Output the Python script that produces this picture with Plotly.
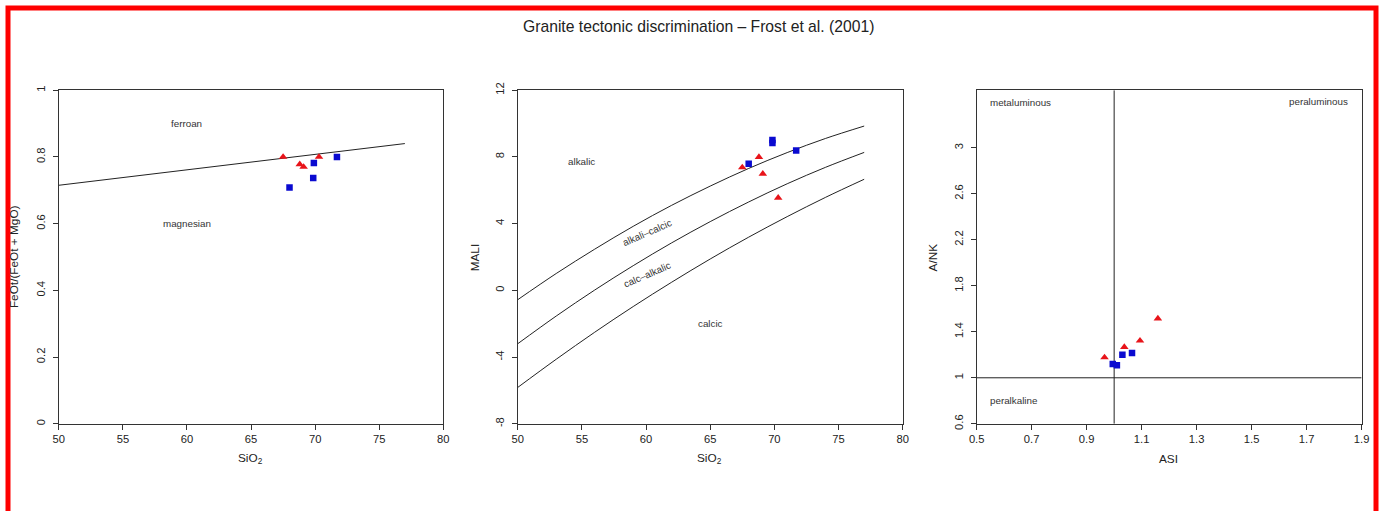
import plotly.graph_objects as go

# The photographed page (figure + 8px body margin) is scaled into 1384x511,
# so reference pixel positions are mapped back through that scale.
W, H = 1384, 511
OFF = 8
SX = W / (W + 2 * OFF)
SY = H / (H + 2 * OFF)

# ---------------- data ----------------
# Panel 1: Fe-number vs SiO2
p1_red_sio2 = [67.5, 68.8, 69.1, 70.3]
p1_red_fe = [0.80, 0.778, 0.77, 0.80]
p1_blue_sio2 = [68.0, 69.9, 69.85, 71.7]
p1_blue_fe = [0.708, 0.782, 0.737, 0.80]
p1_line_sio2 = [50, 77]
p1_line_fe = [0.715, 0.84]

# Panel 2: MALI vs SiO2
p2_red_sio2 = [67.5, 68.8, 69.1, 70.3]
p2_red_mali = [7.37, 7.99, 6.99, 5.55]
p2_blue_sio2 = [68.0, 69.85, 69.85, 71.7]
p2_blue_mali = [7.59, 9.01, 8.83, 8.39]
curve_sio2 = [50, 53, 56, 59, 62, 65, 68, 71, 74, 77]
curve_alk = [-0.56, 1.01, 2.47, 3.84, 5.10, 6.25, 7.31, 8.26, 9.11, 9.85]
curve_alkcalc = [-3.20, -1.54, 0.02, 1.48, 2.85, 4.12, 5.30, 6.39, 7.38, 8.27]
curve_calcalk = [-5.82, -4.13, -2.51, -0.97, 0.49, 1.88, 3.19, 4.42, 5.58, 6.66]

# Panel 3: A/NK vs ASI
p3_red_asi = [0.965, 1.037, 1.094, 1.159]
p3_red_ank = [1.177, 1.267, 1.323, 1.515]
p3_blue_asi = [0.995, 1.010, 1.030, 1.065]
p3_blue_ank = [1.119, 1.110, 1.200, 1.215]

# ticks
p1_xticks = [50, 55, 60, 65, 70, 75, 80]
p1_yticks = [0, 0.2, 0.4, 0.6, 0.8, 1]
p1_ytext = ["0", "0.2", "0.4", "0.6", "0.8", "1"]
p2_yticks = [-8, -4, 0, 4, 8, 12]
p2_ytext = ["-8", "-4", "0", "4", "8", "12"]
p3_xticks = [0.5, 0.7, 0.9, 1.1, 1.3, 1.5, 1.7, 1.9]
p3_xtext = ["0.5", "0.7", "0.9", "1.1", "1.3", "1.5", "1.7", "1.9"]
p3_yticks = [0.6, 1, 1.4, 1.8, 2.2, 2.6, 3]
p3_ytext = ["0.6", "1", "1.4", "1.8", "2.2", "2.6", "3"]

FONT = "Liberation Sans, Arial, sans-serif"
RED = "#e8141a"
BLUE = "#0a0ad0"
LINE = "#222222"
AXC = "#333333"
TXT = "#333333"

fig = go.Figure()

def red_tri(x, y, xa, ya):
    fig.add_trace(go.Scatter(x=x, y=y, mode="markers", xaxis=xa, yaxis=ya,
                             marker=dict(symbol="triangle-up", size=7.5, color=RED, line=dict(width=0)),
                             showlegend=False, hoverinfo="x+y"))

def blue_sq(x, y, xa, ya):
    fig.add_trace(go.Scatter(x=x, y=y, mode="markers", xaxis=xa, yaxis=ya,
                             marker=dict(symbol="square", size=6.5, color=BLUE, line=dict(width=0)),
                             showlegend=False, hoverinfo="x+y"))

def line(x, y, xa, ya, shape="linear"):
    fig.add_trace(go.Scatter(x=x, y=y, mode="lines", xaxis=xa, yaxis=ya,
                             line=dict(color=LINE, width=1, shape=shape),
                             showlegend=False, hoverinfo="skip"))

# Panel 1
line(p1_line_sio2, p1_line_fe, "x", "y")
red_tri(p1_red_sio2, p1_red_fe, "x", "y")
blue_sq(p1_blue_sio2, p1_blue_fe, "x", "y")

# Panel 2
line(curve_sio2, curve_alk, "x2", "y2", "spline")
line(curve_sio2, curve_alkcalc, "x2", "y2", "spline")
line(curve_sio2, curve_calcalk, "x2", "y2", "spline")
red_tri(p2_red_sio2, p2_red_mali, "x2", "y2")
blue_sq(p2_blue_sio2, p2_blue_mali, "x2", "y2")

# Panel 3
line([1, 1], [0.6, 3.5], "x3", "y3")
line([0.5, 1.9], [1, 1], "x3", "y3")
red_tri(p3_red_asi, p3_red_ank, "x3", "y3")
blue_sq(p3_blue_asi, p3_blue_ank, "x3", "y3")

def px_x(p):
    return (p / SX - OFF) / W

def px_y(p):
    return 1 - (p / SY - OFF) / H

ydom = [px_y(422.3), px_y(89.7)]
tickfont = dict(family=FONT, size=11.2, color="#222222")

def xaxis(dom, rng, tv, tt, anchor):
    return dict(domain=dom, range=rng, tickmode="array", tickvals=tv, ticktext=tt,
                showgrid=False, zeroline=False, showline=True, linecolor=AXC, linewidth=1,
                mirror=True, ticks="outside", ticklen=5, tickcolor=AXC, tickwidth=1,
                tickfont=tickfont, anchor=anchor, fixedrange=True)

def yaxis(rng, tv, tt, anchor):
    return dict(domain=ydom, range=rng, tickmode="array", tickvals=tv, ticktext=tt,
                showgrid=False, zeroline=False, showline=True, linecolor=AXC, linewidth=1,
                mirror=True, ticks="outside", ticklen=5, tickcolor=AXC, tickwidth=1,
                tickfont=tickfont, tickangle=-90, ticklabelstandoff=3,
                anchor=anchor, fixedrange=True)

p1_xtext = [str(v) for v in p1_xticks]

fig.update_layout(
    width=W, height=H,
    margin=dict(l=0, r=0, t=0, b=0),
    paper_bgcolor="white", plot_bgcolor="white",
    font=dict(family=FONT, color=TXT),
    xaxis=xaxis([px_x(58.7), px_x(443.3)], [50, 80], p1_xticks, p1_xtext, "y"),
    yaxis=yaxis([0, 1], p1_yticks, p1_ytext, "x"),
    xaxis2=xaxis([px_x(517.7), px_x(902.7)], [50, 80], p1_xticks, p1_xtext, "y2"),
    yaxis2=yaxis([-8, 12], p2_yticks, p2_ytext, "x2"),
    xaxis3=xaxis([px_x(976.7), px_x(1361.7)], [0.5, 1.9], p3_xticks, p3_xtext, "y3"),
    yaxis3=yaxis([0.6, 3.5], p3_yticks, p3_ytext, "x3"),
)

ann = []
# title
ann.append(dict(text="Granite tectonic discrimination \u2013 Frost et al. (2001)", x=px_x(698.5), y=px_y(26),
                xref="paper", yref="paper", showarrow=False, xanchor="center", yanchor="middle",
                font=dict(family=FONT, size=15.7, color="#222222")))
# axis titles
ttlfont = dict(family=FONT, size=11.8, color="#222222")
for xc, t in [(250.5, "SiO<sub>2</sub>"), (710, "SiO<sub>2</sub>"), (1169, "ASI")]:
    ann.append(dict(text=t, x=px_x(xc), y=px_y(457), xref="paper", yref="paper", showarrow=False,
                    xanchor="center", yanchor="middle", font=ttlfont))
for xc, t in [(14, "FeOt/(FeOt + MgO)"), (475.3, "MALI"), (933.5, "A/NK")]:
    ann.append(dict(text=t, x=px_x(xc), y=px_y(256), xref="paper", yref="paper", showarrow=False,
                    xanchor="center", yanchor="middle", textangle=-90, font=ttlfont))
# field labels
lblfont = dict(family=FONT, size=9.8, color=TXT)
for xa, ya, x, y, t, ang in [
    ("x", "y", 60, 0.90, "ferroan", 0),
    ("x", "y", 60, 0.60, "magnesian", 0),
    ("x2", "y2", 55, 7.7, "alkalic", 0),
    ("x2", "y2", 60.1, 3.45, "alkali\u2013calcic", -23.5),
    ("x2", "y2", 60.1, 0.95, "calc\u2013alkalic", -23.5),
    ("x2", "y2", 65, -2.0, "calcic", 0),
    ("x3", "y3", 0.661, 3.395, "metaluminous", 0),
    ("x3", "y3", 1.742, 3.40, "peraluminous", 0),
    ("x3", "y3", 0.636, 0.80, "peralkaline", 0),
]:
    ann.append(dict(text=t, x=x, y=y, xref=xa, yref=ya, showarrow=False, xanchor="center",
                    yanchor="middle", textangle=ang, font=lblfont))
fig.update_layout(annotations=ann)

# red frame (drawn at the figure edge)
fig.update_layout(shapes=[
    dict(type="rect", xref="paper", yref="paper", x0=0, x1=1, y0=-0.1, y1=1,
         line=dict(color="#ff0000", width=5), fillcolor="rgba(0,0,0,0)", layer="above"),
])

fig.write_html("out.html")
